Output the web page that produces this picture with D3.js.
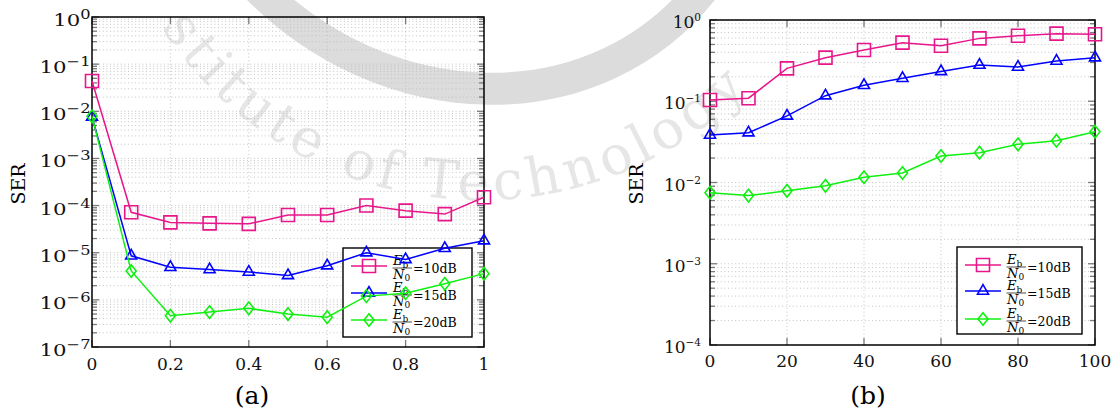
<!DOCTYPE html>
<html>
<head>
<meta charset="utf-8">
<script src="https://cdn.jsdelivr.net/npm/d3@7"></script>
<style>
  body { margin: 0; background: #fff; }
  text { font-family: "DejaVu Serif", serif; }
</style>
</head>
<body>
<svg width="1116" height="414"></svg>
<script>
// ---- data ----
const rhoA = [0, 0.1, 0.2, 0.3, 0.4, 0.5, 0.6, 0.7, 0.8, 0.9, 1];
const serA10 = [4.4e-2, 7.2e-5, 4.4e-5, 4.2e-5, 4.1e-5, 6.3e-5, 6.3e-5, 1.0e-4, 7.8e-5, 6.6e-5, 1.5e-4];
const serA15 = [7.6e-3, 8.6e-6, 4.9e-6, 4.4e-6, 3.9e-6, 3.3e-6, 5.3e-6, 1.0e-5, 7.2e-6, 1.24e-5, 1.8e-5];
const serA20 = [7.8e-3, 4.1e-6, 4.6e-7, 5.5e-7, 6.6e-7, 5.0e-7, 4.3e-7, 1.2e-6, 1.38e-6, 2.2e-6, 3.6e-6];

const kB = [0, 10, 20, 30, 40, 50, 60, 70, 80, 90, 100];
const serB10 = [0.1035, 0.109, 0.254, 0.344, 0.428, 0.526, 0.483, 0.594, 0.641, 0.679, 0.667];
const serB15 = [0.0384, 0.041, 0.066, 0.117, 0.157, 0.192, 0.233, 0.279, 0.264, 0.313, 0.344];
const serB20 = [0.0075, 0.0069, 0.0079, 0.0091, 0.0116, 0.0131, 0.0212, 0.0233, 0.0295, 0.0327, 0.0422];

const xTicksA = [0, 0.2, 0.4, 0.6, 0.8, 1];
const xTicksB = [0, 20, 40, 60, 80, 100];
const legendDb = ['10dB', '15dB', '20dB'];
const colors = ['#e8168b', '#0000ff', '#10f010'];
const marks = ['square', 'triangle', 'diamond'];

const svg = d3.select('svg');

// ---- watermark (faint logo behind the plots) ----
const wm = svg.append('g');
wm.append('path')
  .attr('d', 'M250,-20 C380,120 600,130 710,-20')
  .attr('fill', 'none').attr('stroke', '#dcdcdc').attr('stroke-width', 32);
wm.append('path').attr('id', 'wmArc')
  .attr('d', 'M161,27 A380,380 0 0,0 847,-82').attr('fill', 'none');
wm.append('text')
  .style('font-family', '"DejaVu Serif", serif').attr('font-size', 54)
  .attr('fill', '#e6e6e6').attr('letter-spacing', 5)
  .append('textPath').attr('href', '#wmArc').text('stitute of Technology');

function markPath(type) {
  if (type === 'square') return 'M-6.5,-6.5H6.5V6.5H-6.5Z';
  if (type === 'triangle') return 'M0,-6.4L5.5,3.2L-5.5,3.2Z';
  return 'M0,-6.3L5,0L0,6.3L-5,0Z';
}

function drawPanel(cfg) {
  const g = svg.append('g');
  const x = d3.scaleLinear().domain(cfg.xDomain).range([cfg.left, cfg.right]);
  const y = d3.scaleLog().domain(cfg.yDomain).range([cfg.bottom, cfg.top]);

  const decades = d3.range(Math.log10(cfg.yDomain[0]), Math.log10(cfg.yDomain[1]) + 1).map(e => Math.pow(10, e));
  const minors = [];
  decades.slice(0, -1).forEach(d => { for (let m = 2; m <= 9; m++) minors.push(d * m); });

  // grid
  g.selectAll('.hgrid').data(minors.concat(decades.slice(1, -1))).enter().append('line')
    .attr('x1', cfg.left).attr('x2', cfg.right)
    .attr('y1', d => y(d)).attr('y2', d => y(d))
    .attr('stroke', '#bdbdbd').attr('stroke-width', 0.9).attr('stroke-dasharray', '1,2.6');
  g.selectAll('.vgrid').data(cfg.xTicks.slice(1, -1)).enter().append('line')
    .attr('x1', d => x(d)).attr('x2', d => x(d))
    .attr('y1', cfg.top).attr('y2', cfg.bottom)
    .attr('stroke', '#bdbdbd').attr('stroke-width', 0.9).attr('stroke-dasharray', '1,2.6');

  // ticks (inside, both sides)
  const tk = g.append('g').attr('stroke', '#7a7a7a').attr('stroke-width', 1.3);
  [[cfg.left, 1], [cfg.right, -1]].forEach(([x0, s]) => {
    decades.forEach(d => tk.append('line').attr('x1', x0).attr('x2', x0 + s * 7).attr('y1', y(d)).attr('y2', y(d)));
    minors.forEach(d => tk.append('line').attr('x1', x0).attr('x2', x0 + s * 5).attr('y1', y(d)).attr('y2', y(d)));
  });
  [[cfg.bottom, -1], [cfg.top, 1]].forEach(([y0, s]) => {
    cfg.xTicks.forEach(d => tk.append('line').attr('x1', x(d)).attr('x2', x(d)).attr('y1', y0).attr('y2', y0 + s * 7));
  });

  // y tick labels 10^k
  decades.forEach(d => {
    const e = Math.round(Math.log10(d));
    const t = g.append('text')
      .attr('transform', `translate(${cfg.left - cfg.labelGap},${y(d) + cfg.labelDy}) scale(${cfg.labelStretch},1)`)
      .attr('text-anchor', 'end').attr('font-size', 17).attr('fill', '#111');
    t.append('tspan').text('10');
    t.append('tspan').attr('dy', -7).attr('font-size', cfg.supSize).text(e === 0 ? '0' : '\u2212' + Math.abs(e));
  });
  // x tick labels
  g.selectAll('.xl').data(cfg.xTicks).enter().append('text')
    .attr('x', d => x(d)).attr('y', cfg.bottom + cfg.xLabelDy)
    .attr('text-anchor', 'middle').attr('font-size', 17).attr('fill', '#111')
    .text(d => String(d));

  // y label and caption
  g.append('text').attr('transform', `translate(${cfg.yLabelX},184) rotate(-90)`)
    .attr('text-anchor', 'middle').attr('font-size', 19).text('SER');
  g.append('text').attr('x', cfg.captionX).attr('y', 404)
    .attr('text-anchor', 'middle').attr('font-size', 25).text(cfg.caption);

  // frame
  g.append('rect').attr('x', cfg.left).attr('y', cfg.top)
    .attr('width', cfg.right - cfg.left).attr('height', cfg.bottom - cfg.top)
    .attr('fill', 'none').attr('stroke', '#000').attr('stroke-width', 1.5);

  // legend
  const L = cfg.legend;
  const lg = g.append('g');
  lg.append('rect').attr('x', L.x).attr('y', L.y).attr('width', L.w).attr('height', L.h)
    .attr('fill', '#fff').attr('stroke', '#000').attr('stroke-width', 1.4);
  legendDb.forEach((lab, i) => {
    const ry = L.rows[i];
    lg.append('line').attr('x1', L.x + 8).attr('x2', L.x + 44).attr('y1', ry).attr('y2', ry)
      .attr('stroke', colors[i]).attr('stroke-width', 1.5);
    lg.append('path').attr('d', markPath(marks[i])).attr('transform', `translate(${L.x + 26},${ry})`)
      .attr('fill', 'none').attr('stroke', colors[i]).attr('stroke-width', 1.6);
    const fx = L.x + 50, by = ry + 2;
    const num = lg.append('text').attr('x', fx).attr('y', by - 3).attr('font-size', 13);
    num.append('tspan').attr('font-style', 'italic').text('E');
    num.append('tspan').attr('dy', 2.5).attr('font-size', 9).text('b');
    lg.append('line').attr('x1', fx - 0.5).attr('x2', fx + 19).attr('y1', by).attr('y2', by)
      .attr('stroke', '#222').attr('stroke-width', 0.8);
    const den = lg.append('text').attr('x', fx).attr('y', by + 10.5).attr('font-size', 13);
    den.append('tspan').attr('font-style', 'italic').text('N');
    den.append('tspan').attr('dy', 2.5).attr('font-size', 9).text('0');
    lg.append('text').attr('x', fx + 20).attr('y', by + 4.5).attr('font-size', 12.5).text('=' + lab);
  });

  // series
  const line = d3.line().x(d => x(d[0])).y(d => y(d[1]));
  cfg.series.forEach((s, i) => {
    const pts = cfg.xs.map((v, j) => [v, s[j]]);
    g.append('path').datum(pts).attr('d', line)
      .attr('fill', 'none').attr('stroke', colors[i]).attr('stroke-width', 1.5);
    g.selectAll('.m' + i).data(pts).enter().append('path')
      .attr('d', markPath(marks[i]))
      .attr('transform', d => `translate(${x(d[0])},${y(d[1])})`)
      .attr('fill', 'none').attr('stroke', colors[i]).attr('stroke-width', 1.6);
  });
}

drawPanel({
  left: 92, right: 484, top: 17, bottom: 347,
  xDomain: [0, 1], yDomain: [1e-7, 1], xTicks: xTicksA, xs: rhoA,
  series: [serA10, serA15, serA20],
  labelGap: 1.5, labelDy: 9, labelStretch: 1.25, supSize: 13,
  xLabelDy: 23, yLabelX: 25, captionX: 252, caption: '(a)',
  legend: { x: 343, y: 248, w: 129, h: 89, rows: [266, 293, 320] }
});

drawPanel({
  left: 710, right: 1095, top: 20, bottom: 345,
  xDomain: [0, 100], yDomain: [1e-4, 1], xTicks: xTicksB, xs: kB,
  series: [serB10, serB15, serB20],
  labelGap: 9, labelDy: 8, labelStretch: 1, supSize: 10.5,
  xLabelDy: 22, yLabelX: 643, captionX: 868, caption: '(b)',
  legend: { x: 957, y: 247, w: 125, h: 87, rows: [265, 291, 319] }
});
</script>
</body>
</html>
